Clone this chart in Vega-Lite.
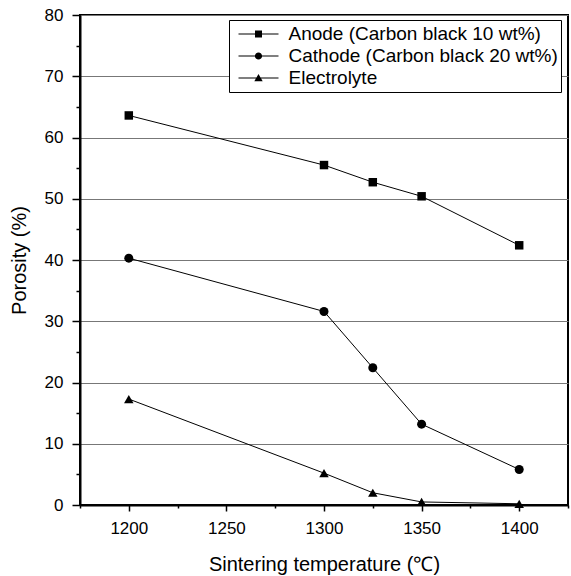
{
  "$schema": "https://vega.github.io/schema/vega-lite/v6.json",
  "autosize": "none",
  "width": 488,
  "height": 490,
  "padding": {"left": 80, "top": 15, "right": 3, "bottom": 71},
  "background": "white",
  "config": {
    "font": "Liberation Sans",
    "view": {"stroke": "black", "strokeWidth": 2},
    "axis": {"domainColor": "black", "domainWidth": 2, "tickColor": "black", "tickWidth": 1.5, "labelColor": "black", "titleColor": "black", "labelFont": "Liberation Sans", "titleFont": "Liberation Sans", "titleFontWeight": "normal", "labelFontSize": 17, "titleFontSize": 20}
  },
  "data": {
    "values": [
      {"series": "Anode (Carbon black 10 wt%)", "temp": 1200, "porosity": 63.6},
      {"series": "Anode (Carbon black 10 wt%)", "temp": 1300, "porosity": 55.5},
      {"series": "Anode (Carbon black 10 wt%)", "temp": 1325, "porosity": 52.7},
      {"series": "Anode (Carbon black 10 wt%)", "temp": 1350, "porosity": 50.4},
      {"series": "Anode (Carbon black 10 wt%)", "temp": 1400, "porosity": 42.4},
      {"series": "Cathode (Carbon black 20 wt%)", "temp": 1200, "porosity": 40.3},
      {"series": "Cathode (Carbon black 20 wt%)", "temp": 1300, "porosity": 31.6},
      {"series": "Cathode (Carbon black 20 wt%)", "temp": 1325, "porosity": 22.4},
      {"series": "Cathode (Carbon black 20 wt%)", "temp": 1350, "porosity": 13.2},
      {"series": "Cathode (Carbon black 20 wt%)", "temp": 1400, "porosity": 5.8},
      {"series": "Electrolyte", "temp": 1200, "porosity": 17.3},
      {"series": "Electrolyte", "temp": 1300, "porosity": 5.2},
      {"series": "Electrolyte", "temp": 1325, "porosity": 2.0},
      {"series": "Electrolyte", "temp": 1350, "porosity": 0.5},
      {"series": "Electrolyte", "temp": 1400, "porosity": 0.2}
    ]
  },
  "encoding": {
    "x": {
      "field": "temp", "type": "quantitative",
      "scale": {"domain": [1175, 1425], "nice": false, "zero": false},
      "axis": {
        "title": "Sintering temperature (℃)",
        "values": [1175, 1200, 1225, 1250, 1275, 1300, 1325, 1350, 1375, 1400, 1425],
        "labelExpr": "datum.value % 50 === 0 ? datum.label : ''",
        "format": "d",
        "grid": false,
        "tickSize": {"condition": {"test": "datum.value % 50 !== 0", "value": 3}, "value": 6},
        "labelPadding": 9,
        "titlePadding": 18
      }
    },
    "y": {
      "field": "porosity", "type": "quantitative",
      "scale": {"domain": [0, 80], "nice": false},
      "axis": {
        "title": "Porosity (%)",
        "values": [0, 5, 10, 15, 20, 25, 30, 35, 40, 45, 50, 55, 60, 65, 70, 75, 80],
        "labelExpr": "datum.value % 10 === 0 ? datum.label : ''",
        "grid": true,
        "gridColor": "#777777",
        "gridWidth": 1,
        "gridOpacity": {"condition": {"test": "datum.value % 10 !== 0", "value": 0}, "value": 1},
        "tickSize": {"condition": {"test": "datum.value % 10 !== 0", "value": 4}, "value": 8},
        "labelPadding": 9,
        "titlePadding": 15
      }
    }
  },
  "layer": [
    {
      "mark": {"type": "line", "color": "black", "strokeWidth": 1},
      "encoding": {"detail": {"field": "series", "type": "nominal"}}
    },
    {
      "mark": {"type": "point", "filled": true, "color": "black", "opacity": 1},
      "encoding": {
        "shape": {
          "field": "series", "type": "nominal",
          "scale": {"domain": ["Anode (Carbon black 10 wt%)", "Cathode (Carbon black 20 wt%)", "Electrolyte"], "range": ["square", "circle", "triangle-up"]},
          "legend": null
        },
        "size": {
          "field": "series", "type": "nominal",
          "scale": {"domain": ["Anode (Carbon black 10 wt%)", "Cathode (Carbon black 20 wt%)", "Electrolyte"], "range": [72, 90, 100]},
          "legend": null
        }
      }
    },
    {
      "transform": [{"filter": "datum.temp < 0"}],
      "mark": {"type": "point", "filled": true, "fill": "black", "opacity": 1},
      "encoding": {
        "shape": {
          "field": "series", "type": "nominal",
          "scale": {"domain": ["Anode (Carbon black 10 wt%)", "Cathode (Carbon black 20 wt%)", "Electrolyte"], "range": ["M-1,-0.03H-0.17V0.03H-1ZM0.17,-0.03H1V0.03H0.17ZM-0.175,-0.175H0.175V0.175H-0.175Z", "M-1,-0.03H-0.17V0.03H-1ZM0.17,-0.03H1V0.03H0.17ZM0.18,0A0.18,0.18,0,1,1,-0.18,0A0.18,0.18,0,1,1,0.18,0Z", "M-1,-0.03H-0.1V0.03H-1ZM0.1,-0.03H1V0.03H0.1ZM-0.21,0.165L0,-0.2L0.21,0.165Z"]},
          "legend": {
            "title": null,
            "orient": "none",
            "legendX": 149,
            "legendY": 5,
            "padding": 3,
            "strokeColor": "black",
            "fillColor": "white",
            "symbolSize": 1600,
            "symbolFillColor": "black",
            "symbolOpacity": 1,
            "symbolOffset": 5.5,
            "clipHeight": 22,
            "labelFont": "Liberation Sans",
            "labelFontSize": 19,
            "labelColor": "black",
            "labelLimit": 500,
            "labelOffset": 9,
            "rowPadding": 0
          }
        }
      }
    }
  ],
  "resolve": {"scale": {"shape": "independent", "size": "independent"}, "legend": {"shape": "independent", "size": "independent"}}
}
